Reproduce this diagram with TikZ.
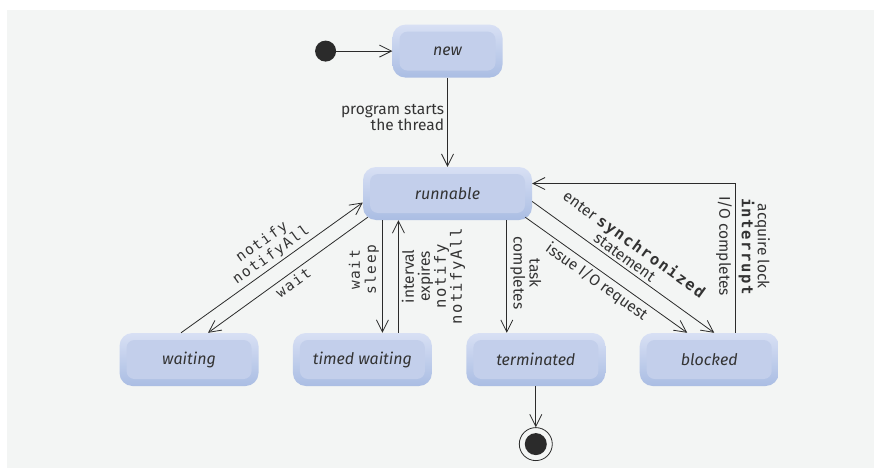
\documentclass[tikz,border=0pt]{standalone}
\usepackage{fontspec}
\setmainfont{Fira Sans}
\newfontfamily\codefont[LetterSpace=10]{DejaVu Sans Mono}
\usetikzlibrary{arrows.meta,positioning}
\definecolor{StateFill}{HTML}{C3CFEB}
\definecolor{StateLight}{HTML}{D8E0F4}
\definecolor{StateDark}{HTML}{AABDE3}
\definecolor{PageGray}{HTML}{F3F5F4}
\definecolor{LineGray}{HTML}{2B2B2B}
\newcommand{\code}[1]{{\codefont #1}}
\tikzset{
  statebox/.style={rounded corners=13pt, minimum width=139pt, minimum height=53pt, top color=StateLight, bottom color=StateDark, text=black!80, font=\fontsize{16}{18}\selectfont\itshape, path picture={\fill[StateFill, rounded corners=8pt] ([shift={(7pt,-7pt)}]path picture bounding box.north west) rectangle ([shift={(-7pt,7pt)}]path picture bounding box.south east);}},
  arr/.style={-{Straight Barb[length=12pt,width=12pt]}, line width=0.8pt, draw=LineGray},
  lbl/.style={font=\fontsize{15.5}{16}\selectfont, text=black!80, align=center, inner sep=3pt},
  codelbl/.style={lbl, font=\fontsize{14.5}{16}\selectfont\codefont}
}

\begin{document}
\begin{tikzpicture}[x=1pt, y=-1pt]
\useasboundingbox (0,0) rectangle (874,468);
\fill[PageGray] (7,10) rectangle (874,468);
% states
\node[statebox, minimum width=169pt] (run) at (447.5,193.5) {runnable};
\node[statebox, minimum width=110pt, above=89pt of run] (new) {new};
\node[statebox] (waiting) at (189,359.5) {waiting};
\node[statebox, right=34pt of waiting] (timed) {timed waiting};
\node[statebox, right=34pt of timed] (term) {terminated};
\node[statebox, right=34pt of term] (block) {blocked};
\node[circle, fill=LineGray, minimum size=21pt, inner sep=0pt, left=56pt of new] (init) {};
\node[circle, draw=LineGray, line width=0.8pt, minimum size=33pt, inner sep=0pt, below=41pt of term] (final) {};
\node[circle, fill=LineGray, minimum size=22pt, inner sep=0pt] (finaldot) at (final) {};
% transitions
\draw[arr] (init) -- (new);
\draw[arr] (new) -- node[lbl, left, align=right, pos=0.45] {program starts\\the thread} (run);
\draw[arr] ([xshift=-8pt]waiting.north) -- node[codelbl, sloped, above, pos=0.53] {notify\\notifyAll} ([yshift=-9pt]run.west);
\draw[arr] ([shift={(5pt,3pt)}]run.south west) -- node[codelbl, sloped, below, pos=0.5] {wait} ([xshift=19pt]waiting.north);
\draw[arr] ([xshift=20pt]timed.north |- run.south) -- node[codelbl, rotate=90, anchor=south, pos=0.44] {wait\\sleep} ([xshift=20pt]timed.north);
\draw[arr] ([xshift=36pt]timed.north) -- node[lbl, rotate=90, anchor=north, pos=0.5] {interval\\expires\\\code{notify}\\\code{notifyAll}} ([xshift=36pt]timed.north |- run.south);
\draw[arr] ([xshift=-29pt]term.north |- run.south) -- node[lbl, rotate=-90, anchor=south, pos=0.47] {task\\completes} ([xshift=-29pt]term.north);
\draw[arr] ([yshift=-8pt]run.east) -- node[lbl, sloped, above, pos=0.48] {enter \code{\bfseries synchronized}\\statement} ([xshift=5pt]block.north);
\draw[arr] ([shift={(-7pt,3pt)}]run.south east) -- node[lbl, sloped, below, pos=0.48] {issue I/O request} ([xshift=-22pt]block.north);
\draw[arr] ([xshift=26pt]block.north) |- node[lbl, rotate=-90, anchor=north, pos=0.29] {I/O completes} node[lbl, rotate=-90, anchor=south, pos=0.29] {acquire lock\\\code{\bfseries interrupt}} ([yshift=10pt]run.east);
\draw[arr] (term) -- (final);
\end{tikzpicture}
\end{document}
